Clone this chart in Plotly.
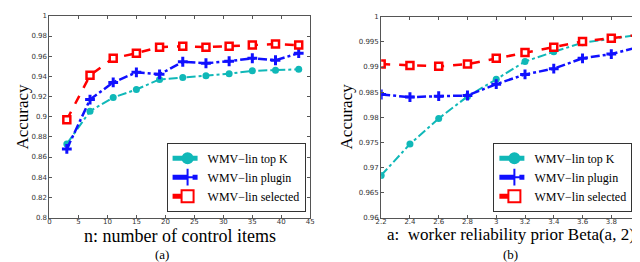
import plotly.graph_objects as go

# Panel (a)
n_items = [3, 7, 11, 15, 19, 23, 27, 31, 35, 39, 43]
a_topk = [0.873, 0.9055, 0.919, 0.927, 0.937, 0.939, 0.9406, 0.9426, 0.9455, 0.946, 0.947]
a_plugin = [0.868, 0.917, 0.934, 0.944, 0.942, 0.9545, 0.953, 0.955, 0.958, 0.956, 0.963]
a_selected = [0.897, 0.941, 0.958, 0.963, 0.969, 0.970, 0.969, 0.970, 0.971, 0.972, 0.971]

# Panel (b)
a_prior = [2.2, 2.4, 2.6, 2.8, 3.0, 3.2, 3.4, 3.6, 3.8, 4.0]
b_topk = [0.9684, 0.97465, 0.97974, 0.98413, 0.98755, 0.9911, 0.99303, 0.99484, 0.99561, 0.99645]
b_plugin = [0.98452, 0.9840, 0.98419, 0.98432, 0.98658, 0.98852, 0.98968, 0.99174, 0.99258, 0.99406]
b_selected = [0.99058, 0.99032, 0.99013, 0.99058, 0.99174, 0.9929, 0.99394, 0.9951, 0.99574, 0.99645]

xticks_a = [0, 5, 10, 15, 20, 25, 30, 35, 40, 45]
yticks_a = [0.8, 0.82, 0.84, 0.86, 0.88, 0.9, 0.92, 0.94, 0.96, 0.98, 1.0]
xticks_b = [2.2, 2.4, 2.6, 2.8, 3.0, 3.2, 3.4, 3.6, 3.8, 4.0]
yticks_b = [0.96, 0.965, 0.97, 0.975, 0.98, 0.985, 0.99, 0.995, 1.0]

names = ["WMV\u2212lin top K", "WMV\u2212lin plugin", "WMV\u2212lin selected"]
CYAN = "#10b8b8"
BLUE = "#1010ff"
RED = "#ff0000"
SERIF = "Liberation Serif, Times New Roman, Times, serif"

def styles():
    return [
        dict(line=dict(color=CYAN, width=2, dash="dashdot"),
             marker=dict(symbol="circle", size=7, color=CYAN)),
        dict(line=dict(color=BLUE, width=2.5, dash="dashdot"),
             marker=dict(symbol="cross-thin", size=7, line=dict(color=BLUE, width=3))),
        dict(line=dict(color=RED, width=2.5, dash="dash"),
             marker=dict(symbol="square", size=7, color="white", line=dict(color=RED, width=2.5))),
    ]

fig = go.Figure()
for name, ys, st in zip(names, [a_topk, a_plugin, a_selected], styles()):
    fig.add_trace(go.Scatter(x=n_items, y=ys, mode="lines+markers", name=name,
                             xaxis="x", yaxis="y", legend="legend", **st))
for name, ys, st in zip(names, [b_topk, b_plugin, b_selected], styles()):
    fig.add_trace(go.Scatter(x=a_prior, y=ys, mode="lines+markers", name=name,
                             xaxis="x2", yaxis="y2", legend="legend2", **st))

W, H = 640, 262
def px_x(p): return p / W
def px_y(p): return (H - p) / H

axis_common = dict(showline=True, linecolor="#555", linewidth=1, mirror="ticks",
                   ticks="inside", ticklen=3, tickcolor="#555", showgrid=False, zeroline=False,
                   tickfont=dict(family="DejaVu Sans", size=7, color="#333"))

legend_common = dict(xanchor="left", yanchor="bottom",
                     bgcolor="white", bordercolor="#333", borderwidth=1,
                     font=dict(family=SERIF, size=12, color="black"),
                     tracegroupgap=0, itemwidth=30, itemsizing="constant")

fig.update_layout(
    width=W, height=H, margin=dict(l=0, r=0, t=0, b=0),
    plot_bgcolor="white", paper_bgcolor="white",
    xaxis=dict(domain=[px_x(36), px_x(301)], range=[0, 45], tickvals=xticks_a,
               anchor="y", **axis_common),
    yaxis=dict(domain=[px_y(212), px_y(4)], range=[0.8, 1.0], tickvals=yticks_a,
               ticktext=[f"{v:g}" for v in yticks_a], anchor="x", **axis_common),
    xaxis2=dict(domain=[px_x(373), px_x(636)], range=[2.2, 4.0], tickvals=xticks_b,
                ticktext=[f"{v:g}" for v in xticks_b], anchor="y2", **axis_common),
    yaxis2=dict(domain=[px_y(212), px_y(5)], range=[0.96, 1.0], tickvals=yticks_b,
                ticktext=[f"{v:g}" for v in yticks_b], anchor="x2", **axis_common),
    legend=dict(x=px_x(155), y=px_y(206), **legend_common),
    legend2=dict(x=px_x(487), y=px_y(206), **legend_common),
    showlegend=True,
)
try:
    fig.update_xaxes(ticklabelstandoff=-3)
except Exception:
    pass

serif = dict(family=SERIF, color="black")
ann = [
    dict(text="Accuracy", x=px_x(9), y=px_y(108), textangle=-90, font=dict(size=17, **serif)),
    dict(text="Accuracy", x=px_x(338), y=px_y(108), textangle=-90, font=dict(size=17, **serif)),
    dict(text="n: number of control items", x=px_x(169), y=px_y(231), font=dict(size=18, **serif)),
    dict(text="a:  worker reliability prior Beta(a, 2)", x=px_x(505), y=px_y(230), font=dict(size=17, **serif)),
    dict(text="(a)", x=px_x(150), y=px_y(250), font=dict(size=13, **serif)),
    dict(text="(b)", x=px_x(504), y=px_y(250), font=dict(size=13, **serif)),
]
for a in ann:
    fig.add_annotation(xref="paper", yref="paper", showarrow=False,
                       xanchor="center", yanchor="middle", borderpad=0, **a)

fig.write_html("out.html")
